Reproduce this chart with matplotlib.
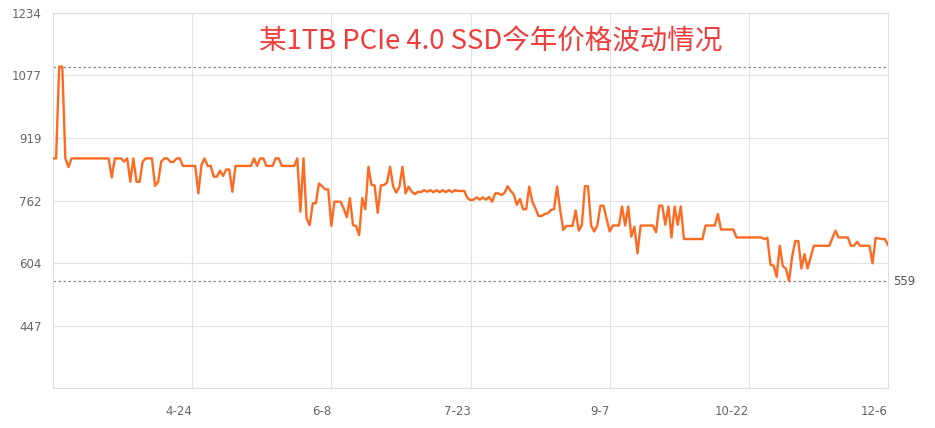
import matplotlib
matplotlib.use('Agg')
import matplotlib.pyplot as plt

plt.rcParams['font.family'] = ['Noto Sans CJK SC', 'DejaVu Sans']

# day offset from 3-10, price
days = [0, 1, 2, 3, 4, 5, 6, 18, 19, 20, 22, 23, 24, 25, 26, 27, 28, 29, 30, 32,
        33, 34, 35, 36, 37, 38, 39, 40, 41, 42, 46, 47, 48, 49, 50, 51, 52, 53, 54, 55,
        56, 57, 58, 59, 64, 65, 66, 67, 68, 69, 71, 72, 73, 74, 78, 79, 80, 81, 82, 83,
        84, 85, 86, 87, 88, 89, 90, 91, 93, 94, 95, 96, 97, 98, 99, 100, 101, 102, 103, 104,
        105, 106, 107, 108, 109, 110, 111, 112, 113, 114, 115, 116, 117, 118, 119, 120, 121, 122, 123, 124,
        125, 126, 127, 128, 129, 130, 131, 132, 133, 134, 135, 136, 137, 138, 139, 140, 141, 142, 143, 144,
        145, 146, 147, 148, 149, 150, 151, 152, 153, 154, 155, 156, 157, 158, 159, 160, 161, 162, 163, 164,
        165, 166, 168, 169, 170, 171, 172, 173, 174, 175, 176, 177, 178, 180, 181, 183, 184, 185, 186, 187,
        188, 189, 190, 194, 195, 196, 197, 198, 199, 200, 201, 202, 203, 204, 210, 211, 214, 215, 216, 220,
        221, 229, 230, 231, 232, 233, 234, 235, 236, 237, 238, 239, 240, 241, 242, 243, 244, 246, 251, 253,
        254, 257, 258, 259, 260, 261, 264, 265, 266, 268, 269, 270]
prices = [868, 868, 1099, 1099, 868, 846, 868, 868, 820, 868, 868, 860, 868, 809, 868, 809, 809, 860, 868, 868,
          799, 809, 860, 868, 868, 859, 859, 868, 868, 849, 849, 780, 851, 868, 849, 849, 822, 822, 837, 824,
          840, 840, 784, 849, 849, 868, 849, 868, 868, 849, 849, 868, 868, 849, 849, 868, 734, 868, 717, 700,
          755, 755, 805, 798, 790, 790, 698, 759, 759, 742, 720, 768, 700, 698, 675, 768, 740, 847, 801, 800,
          731, 800, 801, 807, 847, 797, 782, 796, 847, 780, 797, 784, 778, 784, 783, 788, 784, 788, 783, 788,
          783, 788, 783, 788, 783, 788, 786, 786, 786, 768, 763, 764, 770, 764, 770, 764, 771, 759, 780, 780,
          776, 781, 798, 786, 777, 751, 766, 740, 740, 797, 759, 742, 723, 723, 728, 730, 738, 740, 797, 738,
          688, 698, 698, 737, 686, 700, 798, 798, 699, 684, 699, 749, 749, 684, 699, 699, 747, 699, 747, 671,
          696, 629, 699, 699, 682, 749, 749, 701, 747, 669, 747, 701, 747, 665, 665, 699, 699, 728, 689, 689,
          669, 669, 665, 668, 600, 598, 570, 648, 597, 590, 559, 621, 660, 660, 591, 627, 591, 648, 648, 686,
          669, 669, 648, 648, 658, 648, 648, 604, 668, 665, 665, 650]

tick_days = [45, 90, 135, 180, 225, 270]
tick_labels = ['4-24', '6-8', '7-23', '9-7', '10-22', '12-6']
y_ticks = [290, 447, 604, 762, 919, 1077, 1234]
y_labels = ['', '447', '604', '762', '919', '1077', '1234']
max_price = 1099
min_price = 559

fig = plt.figure(figsize=(9.35, 4.28), dpi=100)
ax = fig.add_axes([53 / 935, 40 / 428, 835 / 935, 375 / 428])

ax.plot(days, prices, color='#ff6a22', linewidth=1.7, zorder=3)
ax.axhline(max_price, color='#888888', linestyle=(0, (2, 2)), linewidth=0.9, zorder=2)
ax.axhline(min_price, color='#888888', linestyle=(0, (2, 2)), linewidth=0.9, zorder=2)
ax.text(1.006, min_price, str(min_price), transform=ax.get_yaxis_transform(),
        ha='left', va='center', fontsize=8.5, color='#555555', family=['DejaVu Sans'])

ax.set_xlim(0, 270)
ax.set_ylim(290, 1234)
ax.set_xticks(tick_days)
ax.set_xticklabels(tick_labels, ha='right')
ax.set_yticks(y_ticks)
ax.set_yticklabels(y_labels)
ax.grid(True, color='#e3e3e3', linewidth=0.8, zorder=0)
ax.tick_params(length=0, labelsize=8.5, labelcolor='#666666')
ax.tick_params(axis='x', pad=12)
ax.tick_params(axis='y', pad=8)
for s in ax.spines.values():
    s.set_color('#dddddd')
    s.set_linewidth(0.8)
for lab in ax.get_xticklabels() + ax.get_yticklabels():
    lab.set_family(['DejaVu Sans'])

fig.text(491 / 935, 1 - 42 / 428, '某1TB PCIe 4.0 SSD今年价格波动情况',
         ha='center', va='center', fontsize=19.8, color='#f23c3c')

fig.savefig('out.png', dpi=100)
plt.close()
